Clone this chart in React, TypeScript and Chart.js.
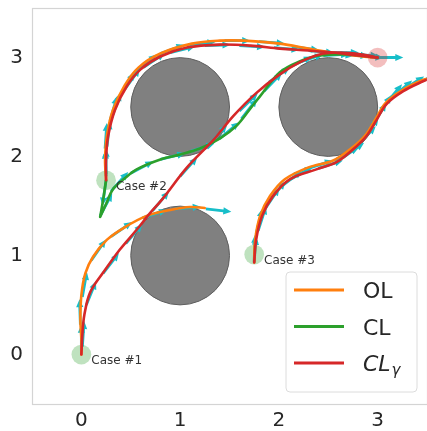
import { useEffect, useRef } from 'react';
import { Chart, registerables } from 'chart.js';

Chart.register(...registerables);

// ---------- data ----------
const xTicks = [0, 1, 2, 3];
const yTicks = [0, 1, 2, 3];
const seriesLabels = ['OL', 'CL', 'CLγ'];
const seriesColors = ['#ff7f0e', '#2ca02c', '#d62728'];

const caseLabels = ['Case #1', 'Case #2', 'Case #3'];
const startX = [0, 0.25, 1.75];
const startY = [0, 1.76, 1.01];
const goalX = [3];
const goalY = [3];

const obstacleX = [1, 2.5, 1];
const obstacleY = [2.5, 2.5, 1];
const obstacleR = [0.5, 0.5, 0.5];

// trajectories [x, y]
const ol1 = [[0, 0], [0, 0.15], [-0.01, 0.35], [0, 0.6], [0.04, 0.82], [0.12, 0.99], [0.26, 1.16], [0.43, 1.28], [0.66, 1.4], [0.9, 1.46], [1.1, 1.49], [1.25, 1.48]];
const clg1 = [[0, 0], [0.01, 0.2], [0.03, 0.4], [0.09, 0.63], [0.23, 0.84], [0.39, 1.06], [0.56, 1.26], [0.68, 1.41], [0.82, 1.57], [1.07, 1.89], [1.34, 2.17], [1.54, 2.41], [1.77, 2.64], [2.01, 2.83], [2.21, 2.95], [2.41, 3.03], [2.62, 3.05], [2.85, 3.03], [3.0, 3.0]];

const ol2 = [[0.25, 1.76], [0.24, 1.97], [0.26, 2.22], [0.32, 2.47], [0.44, 2.72], [0.58, 2.9], [0.8, 3.04], [1.12, 3.14], [1.4, 3.17], [1.65, 3.17], [2.01, 3.14], [2.3, 3.09], [2.6, 3.04], [2.95, 3.0]];
const cl2 = [[0.25, 1.76], [0.22, 1.56], [0.19, 1.39], [0.19, 1.39], [0.25, 1.52], [0.32, 1.67], [0.44, 1.78], [0.56, 1.87], [0.8, 1.97], [1.0, 2.02], [1.2, 2.08], [1.4, 2.18], [1.57, 2.31], [1.7, 2.47], [1.81, 2.61], [2.01, 2.85], [2.21, 2.96], [2.41, 3.02], [2.7, 3.03], [3.0, 3.0]];
const clg2 = [[0.25, 1.76], [0.25, 1.97], [0.27, 2.2], [0.34, 2.47], [0.46, 2.71], [0.6, 2.88], [0.8, 3.01], [1.07, 3.1], [1.4, 3.13], [1.71, 3.12], [2.01, 3.09], [2.3, 3.07], [2.55, 3.05], [2.8, 3.02], [3.0, 3.0]];

const ol3 = [[1.75, 0.93], [1.76, 1.16], [1.81, 1.4], [1.91, 1.6], [2.06, 1.77], [2.3, 1.89], [2.55, 1.96], [2.73, 2.08], [2.88, 2.22], [2.98, 2.38], [3.08, 2.54], [3.25, 2.67], [3.45, 2.77], [3.56, 2.8]];
const clg3 = [[1.75, 0.93], [1.77, 1.16], [1.83, 1.4], [1.94, 1.6], [2.11, 1.77], [2.38, 1.87], [2.58, 1.94], [2.75, 2.07], [2.89, 2.21], [2.99, 2.37], [3.09, 2.53], [3.26, 2.66], [3.46, 2.76], [3.56, 2.8]];

// heading arrows [x, y, angleDeg]
const arrowsOL1 = [[0, 0.04, 90], [-0.01, 0.3, 92], [0.01, 0.58, 80], [0.1, 0.95, 55], [0.3, 1.19, 35], [0.62, 1.38, 18], [0.95, 1.47, 5], [1.26, 1.47, -6]];
const arrowsCLg1 = [[0.01, 0.08, 86], [0.05, 0.5, 68], [0.22, 0.82, 52], [0.45, 1.12, 50], [0.72, 1.45, 50], [1.0, 1.8, 48], [1.3, 2.13, 47], [1.6, 2.46, 44], [1.9, 2.75, 36], [2.2, 2.95, 18], [2.55, 3.05, 0]];
const arrowsOL2 = [[0.25, 1.8, 92], [0.24, 2.08, 86], [0.29, 2.36, 74], [0.4, 2.63, 58], [0.56, 2.87, 38], [0.8, 3.04, 20], [1.1, 3.13, 6], [1.45, 3.17, 0], [1.8, 3.16, -4], [2.15, 3.11, -8], [2.5, 3.05, -8], [2.8, 3.02, -5], [3.0, 3.0, 0]];
const arrowsCL2 = [[0.25, 1.76, -98], [0.19, 1.4, 62], [0.3, 1.65, 48], [0.5, 1.83, 28], [0.8, 1.97, 14], [1.1, 2.05, 18], [1.4, 2.18, 40], [1.62, 2.38, 52], [1.85, 2.66, 46], [2.1, 2.9, 25], [2.45, 3.02, 3], [2.75, 3.03, -3]];
const arrowsCLg2 = [[0.25, 1.82, 90], [0.26, 2.1, 84], [0.31, 2.4, 70], [0.44, 2.68, 54], [0.63, 2.9, 34], [0.9, 3.05, 14], [1.25, 3.12, 2], [1.6, 3.12, -3], [1.95, 3.1, -5], [2.3, 3.07, -5], [2.65, 3.04, -6]];
const arrowsOL3 = [[1.75, 0.95, 88], [1.77, 1.22, 76], [1.86, 1.47, 56], [2.03, 1.7, 38], [2.3, 1.88, 18], [2.58, 1.97, 28], [2.8, 2.12, 46], [2.95, 2.32, 58], [3.08, 2.53, 50], [3.25, 2.67, 32], [3.47, 2.77, 22]];
const arrowsCLg3 = [[1.75, 0.93, 86], [1.79, 1.25, 72], [1.9, 1.55, 50], [2.12, 1.77, 30], [2.4, 1.88, 18], [2.65, 1.99, 35], [2.86, 2.18, 55], [3.0, 2.4, 58], [3.15, 2.6, 40], [3.38, 2.73, 25]];

const allArrows = [arrowsOL1, arrowsCLg1, arrowsOL2, arrowsCL2, arrowsCLg2, arrowsOL3, arrowsCLg3];

// ---------- styles ----------
const ARROW_LEN = 0.26;
const ARROW_COLOR = '#17bec9';
const FONT = "'DejaVu Sans', sans-serif";
const TEXT_COLOR = '#262626';

const toXY = (arr: number[][]) => arr.map(([x, y]) => ({ x, y }));

const lineDs = (label: string, arr: number[][], color: string, order: number) => ({
  label,
  data: toXY(arr),
  showLine: true,
  borderColor: color,
  backgroundColor: color,
  borderWidth: 2.6,
  borderJoinStyle: 'round',
  borderCapStyle: 'round',
  pointRadius: 0,
  tension: 0.35,
  order,
});

const scenePlugin = {
  id: 'scene',
  beforeDatasetsDraw(chart: any) {
    const { ctx, chartArea: a, scales } = chart;
    const sx = scales.x, sy = scales.y;
    ctx.save();
    ctx.beginPath();
    ctx.rect(a.left, a.top, a.right - a.left, a.bottom - a.top);
    ctx.clip();
    // obstacles
    obstacleX.forEach((ox, i) => {
      const cx = sx.getPixelForValue(ox);
      const cy = sy.getPixelForValue(obstacleY[i]);
      const r = sx.getPixelForValue(ox + obstacleR[i]) - cx;
      ctx.beginPath();
      ctx.arc(cx, cy, r, 0, Math.PI * 2);
      ctx.fillStyle = '#808080';
      ctx.fill();
      ctx.lineWidth = 1;
      ctx.strokeStyle = '#5e5e5e';
      ctx.stroke();
    });
    // arrows
    const len = sx.getPixelForValue(ARROW_LEN) - sx.getPixelForValue(0);
    ctx.fillStyle = ARROW_COLOR;
    allArrows.forEach((list) => {
      list.forEach(([x, y, ang]) => {
        const px = sx.getPixelForValue(x);
        const py = sy.getPixelForValue(y);
        const t = (ang * Math.PI) / 180;
        ctx.save();
        ctx.translate(px, py);
        ctx.rotate(-t);
        const hl = 8, hw = 3.6, sw = 1.4;
        ctx.beginPath();
        ctx.moveTo(0, -sw);
        ctx.lineTo(len - hl, -sw);
        ctx.lineTo(len - hl, -hw);
        ctx.lineTo(len, 0);
        ctx.lineTo(len - hl, hw);
        ctx.lineTo(len - hl, sw);
        ctx.lineTo(0, sw);
        ctx.closePath();
        ctx.fill();
        ctx.restore();
      });
    });
    // start / goal markers
    const mr = sx.getPixelForValue(0.1) - sx.getPixelForValue(0);
    startX.forEach((x, i) => {
      ctx.beginPath();
      ctx.arc(sx.getPixelForValue(x), sy.getPixelForValue(startY[i]), mr, 0, Math.PI * 2);
      ctx.fillStyle = 'rgba(44,160,44,0.3)';
      ctx.fill();
    });
    goalX.forEach((x, i) => {
      ctx.beginPath();
      ctx.arc(sx.getPixelForValue(x), sy.getPixelForValue(goalY[i]), mr, 0, Math.PI * 2);
      ctx.fillStyle = 'rgba(214,39,40,0.3)';
      ctx.fill();
    });
    ctx.restore();
  },
  afterDatasetsDraw(chart: any) {
    const { ctx, chartArea: a, scales } = chart;
    const sx = scales.x, sy = scales.y;
    ctx.save();
    // case labels
    ctx.font = `12px ${FONT}`;
    ctx.fillStyle = '#333333';
    ctx.textAlign = 'left';
    ctx.textBaseline = 'alphabetic';
    caseLabels.forEach((t, i) => {
      ctx.fillText(t, sx.getPixelForValue(startX[i] + 0.1), sy.getPixelForValue(startY[i] - 0.1));
    });
    // frame
    ctx.strokeStyle = '#d4d4d4';
    ctx.lineWidth = 1.2;
    ctx.strokeRect(a.left + 0.5, a.top + 0.5, a.right - a.left, a.bottom - a.top);
    // legend
    const bw = 131, bh = 120;
    const bx = a.right - 10 - bw;
    const by = a.bottom - 12 - bh;
    const r = 4;
    ctx.beginPath();
    ctx.moveTo(bx + r, by);
    ctx.arcTo(bx + bw, by, bx + bw, by + bh, r);
    ctx.arcTo(bx + bw, by + bh, bx, by + bh, r);
    ctx.arcTo(bx, by + bh, bx, by, r);
    ctx.arcTo(bx, by, bx + bw, by, r);
    ctx.closePath();
    ctx.fillStyle = 'rgba(255,255,255,0.85)';
    ctx.fill();
    ctx.strokeStyle = '#dcdcdc';
    ctx.lineWidth = 1;
    ctx.stroke();
    seriesLabels.forEach((lab, i) => {
      const yy = by + 18 + i * 36.5;
      ctx.beginPath();
      ctx.moveTo(bx + 8, yy);
      ctx.lineTo(bx + 58, yy);
      ctx.strokeStyle = seriesColors[i];
      ctx.lineWidth = 3;
      ctx.stroke();
      ctx.fillStyle = TEXT_COLOR;
      ctx.textBaseline = 'alphabetic';
      const tx = bx + 77;
      const base = yy + 8;
      if (lab.endsWith('γ')) {
        ctx.font = `italic 22px ${FONT}`;
        const main = lab.slice(0, -1);
        ctx.fillText(main, tx, base);
        const w = ctx.measureText(main).width;
        ctx.font = `italic 15px ${FONT}`;
        ctx.fillText('γ', tx + w + 1, base + 4);
      } else {
        ctx.font = `22px ${FONT}`;
        ctx.fillText(lab, tx, base);
      }
    });
    ctx.restore();
  },
};

export default function App() {
  const ref = useRef<HTMLCanvasElement>(null);
  useEffect(() => {
    if (!ref.current) return;
    const tickFont = { size: 20, family: FONT };
    const chart = new Chart(ref.current, {
      type: 'scatter',
      data: {
        datasets: [
          lineDs(seriesLabels[0], ol1, seriesColors[0], 3),
          lineDs(seriesLabels[0], ol2, seriesColors[0], 3),
          lineDs(seriesLabels[0], ol3, seriesColors[0], 3),
          lineDs(seriesLabels[1], cl2, seriesColors[1], 2),
          lineDs(seriesLabels[2], clg1, seriesColors[2], 1),
          lineDs(seriesLabels[2], clg2, seriesColors[2], 1),
          lineDs(seriesLabels[2], clg3, seriesColors[2], 1),
        ] as any,
      },
      options: {
        responsive: false,
        animation: false,
        devicePixelRatio: 1,
        events: [],
        layout: { padding: { top: 8, right: 0, left: 0, bottom: 0 } },
        plugins: { legend: { display: false }, tooltip: { enabled: false } },
        scales: {
          x: {
            type: 'linear',
            min: -0.5,
            max: 3.5,
            grid: { display: false, drawTicks: false },
            border: { display: false },
            ticks: { padding: 5, font: tickFont, color: TEXT_COLOR },
            afterBuildTicks: (s: any) => { s.ticks = xTicks.map((v) => ({ value: v })); },
            afterFit: (s: any) => { s.height = 27; s.paddingLeft = 0; s.paddingRight = 0; },
          },
          y: {
            type: 'linear',
            min: -0.5,
            max: 3.5,
            grid: { display: false, drawTicks: false },
            border: { display: false },
            ticks: { padding: 9, font: tickFont, color: TEXT_COLOR },
            afterBuildTicks: (s: any) => { s.ticks = yTicks.map((v) => ({ value: v })); },
            afterFit: (s: any) => { s.width = 32; s.paddingTop = 0; s.paddingBottom = 0; },
          },
        },
      } as any,
      plugins: [scenePlugin],
    });
    return () => chart.destroy();
  }, []);
  return (
    <div style={{ position: 'fixed', left: 0, top: 0, width: 427, height: 431, overflow: 'hidden', background: '#fff' }}>
      <canvas ref={ref} width={427} height={431} style={{ display: 'block', width: 427, height: 431 }} />
    </div>
  );
}
